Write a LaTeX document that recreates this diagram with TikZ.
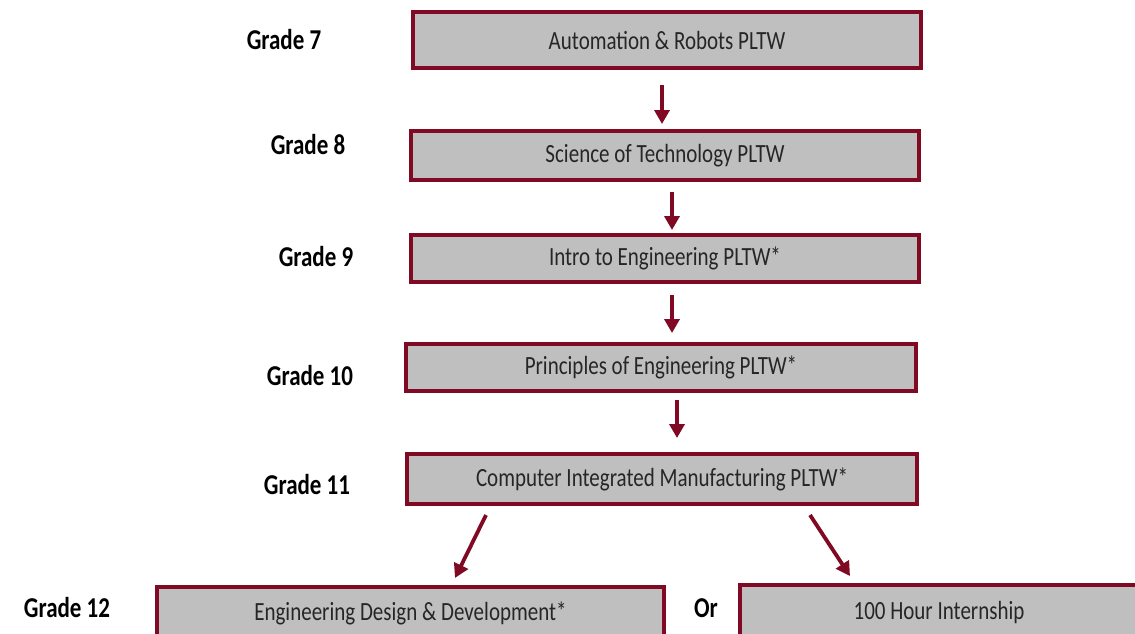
\documentclass[tikz,border=0pt]{standalone}
\usepackage{fontspec}
\usepackage{graphicx}
\setmainfont{Carlito}
\usetikzlibrary{arrows.meta}

\definecolor{pathred}{RGB}{128,10,36}
\definecolor{boxgray}{RGB}{191,191,191}

% 文字纵向拉长
\newcommand{\tall}[1]{\scalebox{1}[1.25]{#1}}

\begin{document}
\begin{tikzpicture}[
                x=1pt, y=-1pt,
                course/.style={draw=pathred, fill=boxgray, line width=4pt,
                    inner sep=0pt, font=\fontsize{21}{25}\selectfont, text=black!85},
                grade/.style={font=\bfseries\fontsize{23}{28}\selectfont, text=black},
                link/.style={draw=pathred, line width=3.8pt,
                    -{Triangle[length=14pt,width=15pt]}}
            ]
            \clip (0,0) rectangle (1135,633);
            \fill[white] (0,0) rectangle (1135,633);

            % 课程方框
            \node[course, minimum width=508pt, minimum height=56pt] (b1) at (667,40) {\tall{Automation \& Robots PLTW}};
            \node[course, minimum width=508pt, minimum height=49pt] (b2) at (665,155.5) {\tall{Science of Technology PLTW}};
            \node[course, minimum width=508pt, minimum height=47pt] (b3) at (665,258.5) {\tall{Intro to Engineering PLTW*}};
            \node[course, minimum width=510pt, minimum height=47pt] (b4) at (661,367.5) {\tall{Principles of Engineering PLTW*}};
            \node[course, minimum width=510pt, minimum height=50pt] (b5) at (662,479) {\tall{Computer Integrated Manufacturing PLTW*}};
            \node[course, minimum width=507pt, minimum height=58pt] (b6) at (410.5,616) {\raisebox{9pt}{\tall{Engineering Design \& Development*}}};
            \node[course, minimum width=398pt, minimum height=60pt] (b7) at (939,615) {\raisebox{9pt}{\tall{100 Hour Internship}}};

            % 年级标签
            \node[grade] (g7) at (284,40) {\tall{Grade 7}};
            \node[grade] (g8) at (308,145) {\tall{Grade 8}};
            \node[grade] (g9) at (316,257) {\tall{Grade 9}};
            \node[grade] (g10) at (310,376) {\tall{Grade 10}};
            \node[grade] (g11) at (307,485) {\tall{Grade 11}};
            \node[grade] (g12) at (67,608) {\tall{Grade 12}};
            \node[grade] (or) at (706,608) {\tall{Or}};

            % 箭头
            \draw[link] ([shift={(-5,15)}]b1.south) -- ([shift={(-3,-5)}]b2.north);
            \draw[link] ([shift={(7,10)}]b2.south) -- ([shift={(7,-3)}]b3.north);
            \draw[link] ([shift={(7,11)}]b3.south) -- ([shift={(11,-9)}]b4.north);
            \draw[link] ([shift={(16,7)}]b4.south) -- ([shift={(15,-14)}]b5.north);
            \draw[link] ([shift={(-176,9)}]b5.south) -- ([shift={(44.5,-7)}]b6.north);
            \draw[link] ([shift={(148,9)}]b5.south) -- ([shift={(-89,-7)}]b7.north);
        \end{tikzpicture}
\end{document}
